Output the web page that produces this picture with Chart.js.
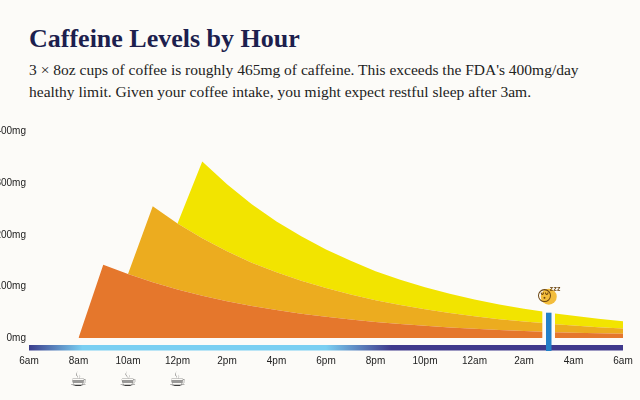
<!DOCTYPE html>
<html>
<head>
<meta charset="utf-8">
<script src="https://cdn.jsdelivr.net/npm/chart.js@4.4.1/dist/chart.umd.min.js"></script>
<style>
  html, body { margin: 0; padding: 0; background: #fcfbf8; width: 640px; height: 400px; overflow: hidden; }
  #title { position: absolute; left: 29px; top: 24px; font: bold 26px "Liberation Serif", serif; color: #1d1f4e; }
  #sub { position: absolute; left: 29px; top: 59px; font: 15.5px/22px "Liberation Serif", serif; color: #222; }
  #wrap { position: absolute; left: -40px; top: 100px; width: 680px; height: 300px; }
</style>
</head>
<body>
<div id="title">Caffeine Levels by Hour</div>
<div id="sub">3 × 8oz cups of coffee is roughly 465mg of caffeine. This exceeds the FDA's 400mg/day<br>healthy limit. Given your coffee intake, you might expect restful sleep after 3am.</div>
<div id="wrap"><canvas id="chart"></canvas></div>
<script>
// hours after 6am
const hours = [2, 3, 4, 5, 6, 7, 8, 9, 10, 11, 12, 13, 14, 15, 16, 17, 18, 19, 20, 20.75, 21, 21.25, 22, 23, 24];
// caffeine (mg) still in the body from each cup
const cup1 = [0, 142, 124, 108, 94, 82, 71, 62, 54, 47, 41, 36, 31, 27, 23.5, 20.5, 18, 15.5, 13.5, 12, null, 11.3, 10.2, 9, 8];
const cup2 = [0, 0, 0, 147, 128, 111, 97, 84, 73.5, 64, 56, 48.5, 42, 37, 32, 28, 24.3, 21, 18.4, 17, null, 15.5, 14, 12, 10.6];
const cup3 = [0, 0, 0, 0, 0, 149, 130, 113, 98, 86, 74.5, 65, 56.5, 49, 43, 37, 32.5, 28.3, 24.6, 22.2, null, 20.7, 18.7, 16.2, 14];

const tickLabels = ['6am', '8am', '10am', '12pm', '2pm', '4pm', '6pm', '8pm', '10pm', '12am', '2am', '4am', '6am'];
const cupHours = [2, 4, 6];
const sleepHour = 21;
const sleepLevel = 49;

const COLORS = {
  cup1: '#e5772c',
  cup2: '#ecac1f',
  cup3: '#f2e400',
  sleep: '#2380c8',
  night: '#3b3d8c',
  day: '#7acff2',
  lateNight: '#3f398c',
};

// split each cup at the sleep gap so the fill breaks there too
function segment(vals, before) {
  return hours
    .map((h, i) => ({ x: h, y: vals[i] }))
    .filter(p => p.y !== null && (before ? p.x < sleepHour : p.x > sleepHour));
}

function cupDatasets(before) {
  return [
    { data: segment(cup1, before), backgroundColor: COLORS.cup1, fill: 'origin' },
    { data: segment(cup2, before), backgroundColor: COLORS.cup2, fill: '-1' },
    { data: segment(cup3, before), backgroundColor: COLORS.cup3, fill: '-1' },
  ];
}

const extras = {
  id: 'extras',
  afterDatasetsDraw(chart) {
    const { ctx, chartArea, scales: { x, y } } = chart;
    const x0 = x.getPixelForValue(0);
    const x1 = x.getPixelForValue(24);
    const barTop = chartArea.bottom + 7;

    // daylight strip under the plot
    const g = ctx.createLinearGradient(x0, 0, x1, 0);
    g.addColorStop(0, COLORS.night);
    g.addColorStop(0.09, COLORS.day);
    g.addColorStop(0.5, COLORS.day);
    g.addColorStop(0.61, COLORS.lateNight);
    g.addColorStop(1, COLORS.lateNight);
    ctx.save();
    ctx.fillStyle = g;
    ctx.fillRect(x0, barTop, x1 - x0, 5.5);

    // sleep marker
    const sx = x.getPixelForValue(sleepHour);
    const sy = y.getPixelForValue(sleepLevel);
    ctx.fillStyle = COLORS.sleep;
    ctx.fillRect(sx - 2.75, sy, 5.5, barTop + 6 - sy);
    ctx.beginPath();
    ctx.arc(sx, sy - 16, 8, 0, Math.PI * 2);
    ctx.fillStyle = '#f3bd3c';
    ctx.fill();
    ctx.textAlign = 'center';
    ctx.textBaseline = 'middle';
    ctx.font = '15px "DejaVu Sans", sans-serif';
    ctx.fillStyle = '#6b4510';
    ctx.fillText('😴', sx, sy - 16);

    // coffee cups
    ctx.font = '20px "DejaVu Sans", sans-serif';
    ctx.fillStyle = '#3a3a3a';
    cupHours.forEach(h => ctx.fillText('☕', x.getPixelForValue(h), chartArea.bottom + 43));
    ctx.restore();
  },
};

new Chart(document.getElementById('chart'), {
  type: 'line',
  data: { datasets: [...cupDatasets(true), ...cupDatasets(false)] },
  options: {
    responsive: true,
    maintainAspectRatio: false,
    animation: false,
    layout: { padding: { top: 31.5, right: 17, bottom: 0, left: 0 } },
    elements: {
      point: { radius: 0 },
      line: { borderWidth: 0, tension: 0 },
    },
    plugins: {
      legend: { display: false },
      tooltip: { enabled: false },
    },
    scales: {
      x: {
        type: 'linear',
        min: 0,
        max: 24,
        grid: { display: false, drawTicks: false },
        border: { display: false },
        afterFit: s => { s.height = 62; s.paddingLeft = 0; s.paddingRight = 0; },
        ticks: {
          stepSize: 2,
          autoSkip: false,
          maxRotation: 0,
          padding: 17,
          color: '#222',
          font: { family: '"Liberation Sans", Arial, sans-serif', size: 10 },
          callback: v => tickLabels[v / 2],
        },
      },
      y: {
        stacked: true,
        min: 0,
        max: 400,
        grid: { display: false, drawTicks: false },
        border: { display: false },
        afterFit: s => { s.width = 69; },
        ticks: {
          stepSize: 100,
          padding: 3,
          color: '#222',
          font: { family: '"Liberation Sans", Arial, sans-serif', size: 10 },
          callback: v => v + 'mg',
        },
      },
    },
  },
  plugins: [extras],
});
</script>
</body>
</html>
